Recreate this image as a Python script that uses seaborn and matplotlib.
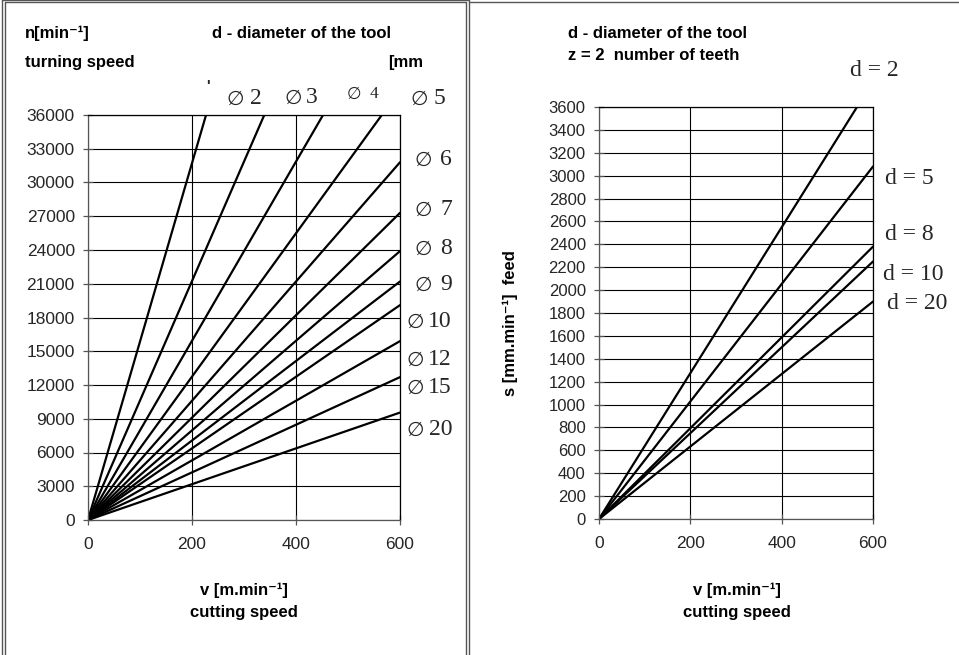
import pandas as pd
import seaborn as sns
import matplotlib.pyplot as plt
from matplotlib.lines import Line2D

# Values
# left chart: turning speed n for each tool diameter d (line from origin to end point)
left_d = [2, 3, 4, 5, 6, 7, 8, 9, 10, 12, 15, 20]
left_v_end = [227, 339, 452, 565, 600, 600, 600, 600, 600, 600, 600, 600]
left_n_end = [36000, 36000, 36000, 36000, 31800, 27300, 23900, 21200, 19100, 15900, 12700, 9550]

# right chart: feed s for z = 2 teeth
right_d = [2, 5, 8, 10, 20]
right_v_end = [565, 600, 600, 600, 600]
right_s_end = [3600, 3080, 2380, 2250, 1900]

left_xticks = [0, 200, 400, 600]
left_yticks = list(range(0, 36001, 3000))
right_yticks = list(range(0, 3601, 200))

# Build long-form tables (origin + end point per line)
left_rows = []
for d, v, n in zip(left_d, left_v_end, left_n_end):
    left_rows.append({'v': 0, 'n': 0, 'd': d})
    left_rows.append({'v': v, 'n': n, 'd': d})
left_df = pd.DataFrame(left_rows)

right_rows = []
for d, v, s in zip(right_d, right_v_end, right_s_end):
    right_rows.append({'v': 0, 's': 0, 'd': d})
    right_rows.append({'v': v, 's': s, 'd': d})
right_df = pd.DataFrame(right_rows)

sns.set_style('white')
plt.rcParams['font.family'] = ['Liberation Sans', 'DejaVu Sans']

W, H = 959, 655
fig = plt.figure(figsize=(W / 100, H / 100), dpi=100)


def fx(x):
    return x / W


def fy(y):
    return 1 - y / H


ax1 = fig.add_axes([fx(88), fy(520), (400 - 88) / W, (520 - 115) / H])
ax2 = fig.add_axes([fx(599), fy(519), (873 - 599) / W, (519 - 107) / H])

sns.lineplot(data=left_df, x='v', y='n', hue='d', palette={d: 'black' for d in left_d},
             estimator=None, sort=False, legend=False, linewidth=1.6, ax=ax1)
sns.lineplot(data=right_df, x='v', y='s', hue='d', palette={d: 'black' for d in right_d},
             estimator=None, sort=False, legend=False, linewidth=1.6, ax=ax2)

for ax, yt, ylim, ysize in [(ax1, left_yticks, 36000, 12.5), (ax2, right_yticks, 3600, 12)]:
    ax.set_xlim(0, 600)
    ax.set_ylim(0, ylim)
    ax.set_xticks(left_xticks)
    ax.set_yticks(yt)
    ax.set_xlabel('')
    ax.set_ylabel('')
    ax.grid(True, color='black', linewidth=0.8)
    ax.set_axisbelow(True)
    for sp in ax.spines.values():
        sp.set_visible(True)
        sp.set_color('black')
        sp.set_linewidth(0.9)
    ax.spines['left'].set_color('#555555')
    ax.spines['bottom'].set_color('#555555')
    ax.tick_params(axis='y', direction='inout', length=7, width=0.9, pad=6,
                   labelsize=ysize, left=True, color='#555555')
    ax.tick_params(axis='x', direction='inout', length=7, width=0.9, pad=9,
                   labelsize=12.5, bottom=True, color='#555555')

bold = dict(fontsize=12, fontweight='bold', color='black')
serif = ['Liberation Serif', 'DejaVu Serif']


def diam_label(num, x_left, x_right, baseline, size=17, sym_size=14.5):
    # diameter sign drawn with a font that really has the glyph, number in serif
    fig.text(fx(x_left), fy(baseline + 1), '∅', va='baseline', ha='left',
             fontsize=sym_size, family=['DejaVu Sans'])
    fig.text(fx(x_right), fy(baseline), num, va='baseline', ha='right',
             fontsize=size, family=serif)


# left panel texts
fig.text(fx(25), fy(33), 'n[min⁻¹]', va='center', ha='left', **bold)
fig.text(fx(25), fy(62), 'turning speed', va='center', ha='left', **bold)
fig.text(fx(212), fy(33), 'd - diameter of the tool', va='center', ha='left', **bold)
fig.text(fx(388), fy(62), '[mm', va='center', ha='left', **bold)
fig.text(fx(208), fy(86), "'", va='center', ha='center', fontsize=11, fontweight='bold')

diam_label('2', 226, 262, 104)
diam_label('3', 284, 318, 103)
diam_label('4', 347, 378, 98, size=12.5, sym_size=12)
diam_label('5', 410, 445, 104)

side_labels = [('6', 415, 165), ('7', 415, 215), ('8', 415, 254), ('9', 415, 290),
               ('10', 406, 327), ('12', 406, 365), ('15', 406, 393), ('20', 406, 435)]
for num, x, y in side_labels:
    diam_label(num, x, 452, y)

fig.text(fx(244), fy(590), 'v [m.min⁻¹]', va='center', ha='center', **bold)
fig.text(fx(244), fy(612), 'cutting speed', va='center', ha='center', **bold)

# right panel texts
fig.text(fx(568), fy(33), 'd - diameter of the tool', va='center', ha='left', **bold)
fig.text(fx(568), fy(56), 'z = 2  number of teeth', va='center', ha='left', **bold)
fig.text(fx(874), fy(70), 'd = 2', va='center', ha='center', fontsize=17, family=serif)
for txt, x, y in [('d = 5', 885, 178), ('d = 8', 885, 235), ('d = 10', 883, 275), ('d = 20', 887, 303)]:
    fig.text(fx(x), fy(y), txt, va='center', ha='left', fontsize=17, family=serif)
fig.text(fx(510), fy(323), 's [mm.min⁻¹]  feed', va='center', ha='center', rotation=90, **bold)
fig.text(fx(737), fy(590), 'v [m.min⁻¹]', va='center', ha='center', **bold)
fig.text(fx(737), fy(612), 'cutting speed', va='center', ha='center', **bold)

# panel frames
frame = dict(color='#555555', linewidth=1.0, transform=fig.transFigure)
for x0, y0, x1, y1 in [(2, 0, 2, 655), (5, 2, 5, 655), (466, 2, 466, 655), (469, 0, 469, 655),
                       (5, 2, 466, 2), (469, 2, 959, 2), (2, 0, 469, 0)]:
    fig.add_artist(Line2D([fx(x0), fx(x1)], [fy(y0), fy(y1)], **frame))

plt.savefig('out.png', dpi=100)
